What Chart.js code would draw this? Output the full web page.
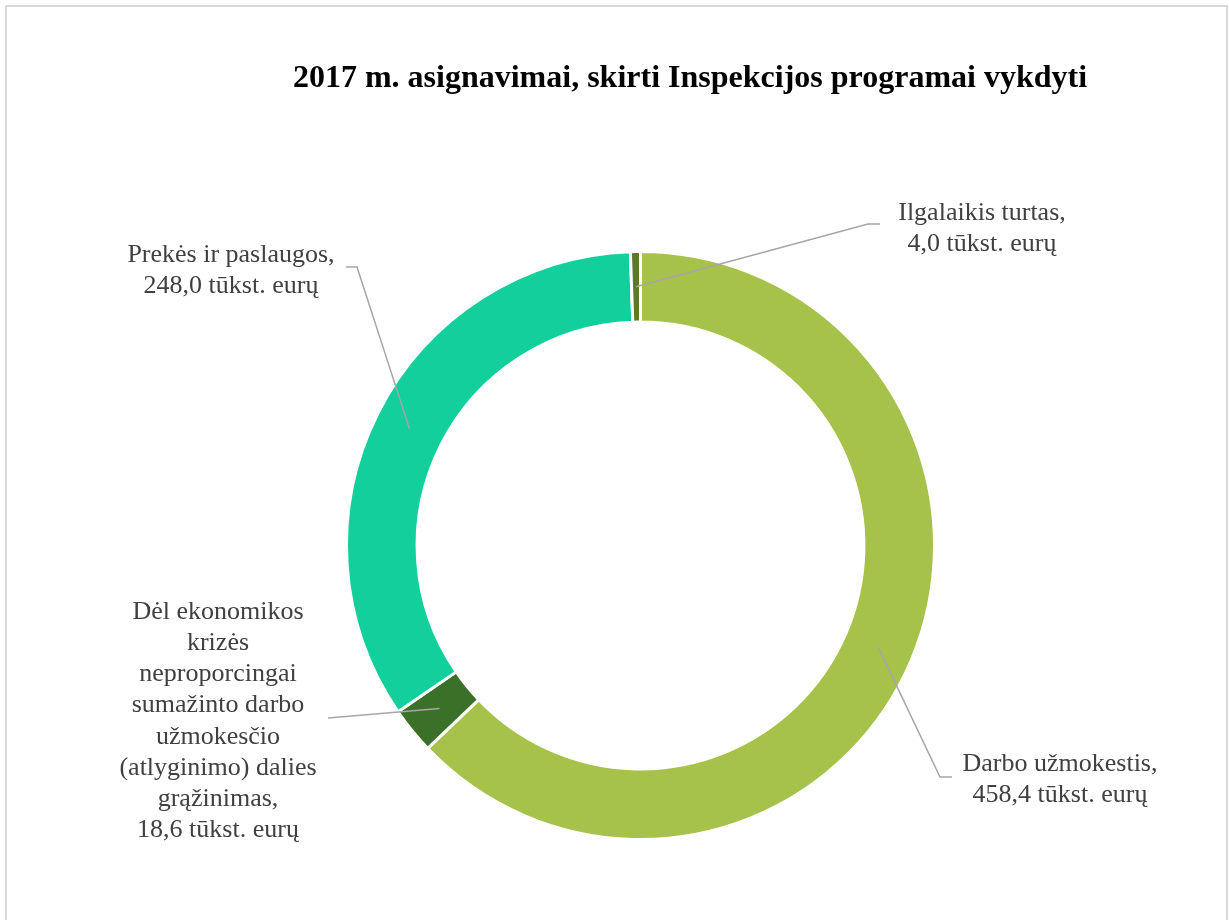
<!DOCTYPE html>
<html>
<head>
<meta charset="utf-8">
<title>2017 m. asignavimai</title>
<script src="https://cdn.jsdelivr.net/npm/chart.js@4/dist/chart.umd.min.js"></script>
<style>
  body { margin: 0; background: #fff; }
  #wrap { position: relative; width: 1229px; height: 920px; }
</style>
</head>
<body>
<div id="wrap">
  <canvas id="myChart" width="1229" height="920"></canvas>
</div>
<script>
// duomenys (tūkst. eurų), nuo viršaus pagal laikrodžio rodyklę
var kategorijos = [
  ["Darbo užmokestis,", "458,4 tūkst. eurų"],
  ["Dėl ekonomikos", "krizės", "neproporcingai", "sumažinto darbo", "užmokesčio", "(atlyginimo) dalies", "grąžinimas,", "18,6 tūkst. eurų"],
  ["Prekės ir paslaugos,", "248,0 tūkst. eurų"],
  ["Ilgalaikis turtas,", "4,0 tūkst. eurų"]
];
var reiksmes = [458.4, 18.6, 248.0, 4.0];
var spalvos = ["#a7c24a", "#3a7027", "#13cf9c", "#5c7a26"];
var pavadinimas = "2017 m. asignavimai, skirti Inspekcijos programai vykdyti";

// etikečių išdėstymas: teksto centras x, pirmos eilutės y, lūžio taškas, horizontalios linijos galas
var etiketes = [
  { x: 1060, y: 764, lx: 940, ly: 777, ex: 952 },
  { x: 218, y: 612, lx: 328, ly: 718, ex: 328 },
  { x: 231, y: 255, lx: 357, ly: 267, ex: 346 },
  { x: 982, y: 213, lx: 868, ly: 224, ex: 880 }
];

function init() {
  getChart();
}

var remelis = {
  id: "remelis",
  beforeDraw: function(chart) {
    var ctx = chart.ctx;
    ctx.save();
    ctx.fillStyle = "#fff";
    ctx.fillRect(0, 0, chart.width, chart.height);
    ctx.strokeStyle = "#d9d9d9";
    ctx.lineWidth = 2;
    ctx.strokeRect(6, 6, 1221, 940);
    ctx.restore();
  },
  afterDraw: function(chart) {
    var ctx = chart.ctx;
    ctx.save();
    ctx.fillStyle = "#000";
    ctx.font = "bold 32px 'Liberation Serif', 'Times New Roman', serif";
    ctx.textAlign = "center";
    ctx.textBaseline = "middle";
    ctx.fillText(pavadinimas, 690, 79);

    var arcs = chart.getDatasetMeta(0).data;
    for (var i = 0; i < arcs.length; i++) {
      var p = arcs[i].tooltipPosition();
      var e = etiketes[i];
      ctx.strokeStyle = "#a6a6a6";
      ctx.lineWidth = 1.5;
      ctx.beginPath();
      ctx.moveTo(p.x, p.y);
      ctx.lineTo(e.lx, e.ly);
      ctx.lineTo(e.ex, e.ly);
      ctx.stroke();

      ctx.fillStyle = "#404040";
      ctx.font = "26px 'Liberation Serif', 'Times New Roman', serif";
      var eil = kategorijos[i];
      for (var j = 0; j < eil.length; j++) {
        ctx.fillText(eil[j], e.x, e.y + j * 31.2);
      }
    }
    ctx.restore();
  }
};

function getChart() {
  var ctx = document.getElementById("myChart").getContext("2d");
  var chart = new Chart(ctx, {
    type: "doughnut",
    data: {
      labels: kategorijos.map(function(k) { return k.join(" "); }),
      datasets: [{
        data: reiksmes,
        backgroundColor: spalvos,
        borderColor: "#ffffff",
        borderWidth: 3
      }]
    },
    options: {
      responsive: false,
      animation: false,
      cutout: "76%",
      layout: { padding: { left: 345, right: 293, top: 250, bottom: 79 } },
      plugins: {
        legend: { display: false },
        title: { display: false },
        tooltip: { enabled: false }
      }
    },
    plugins: [remelis]
  });
}

init();
</script>
</body>
</html>
